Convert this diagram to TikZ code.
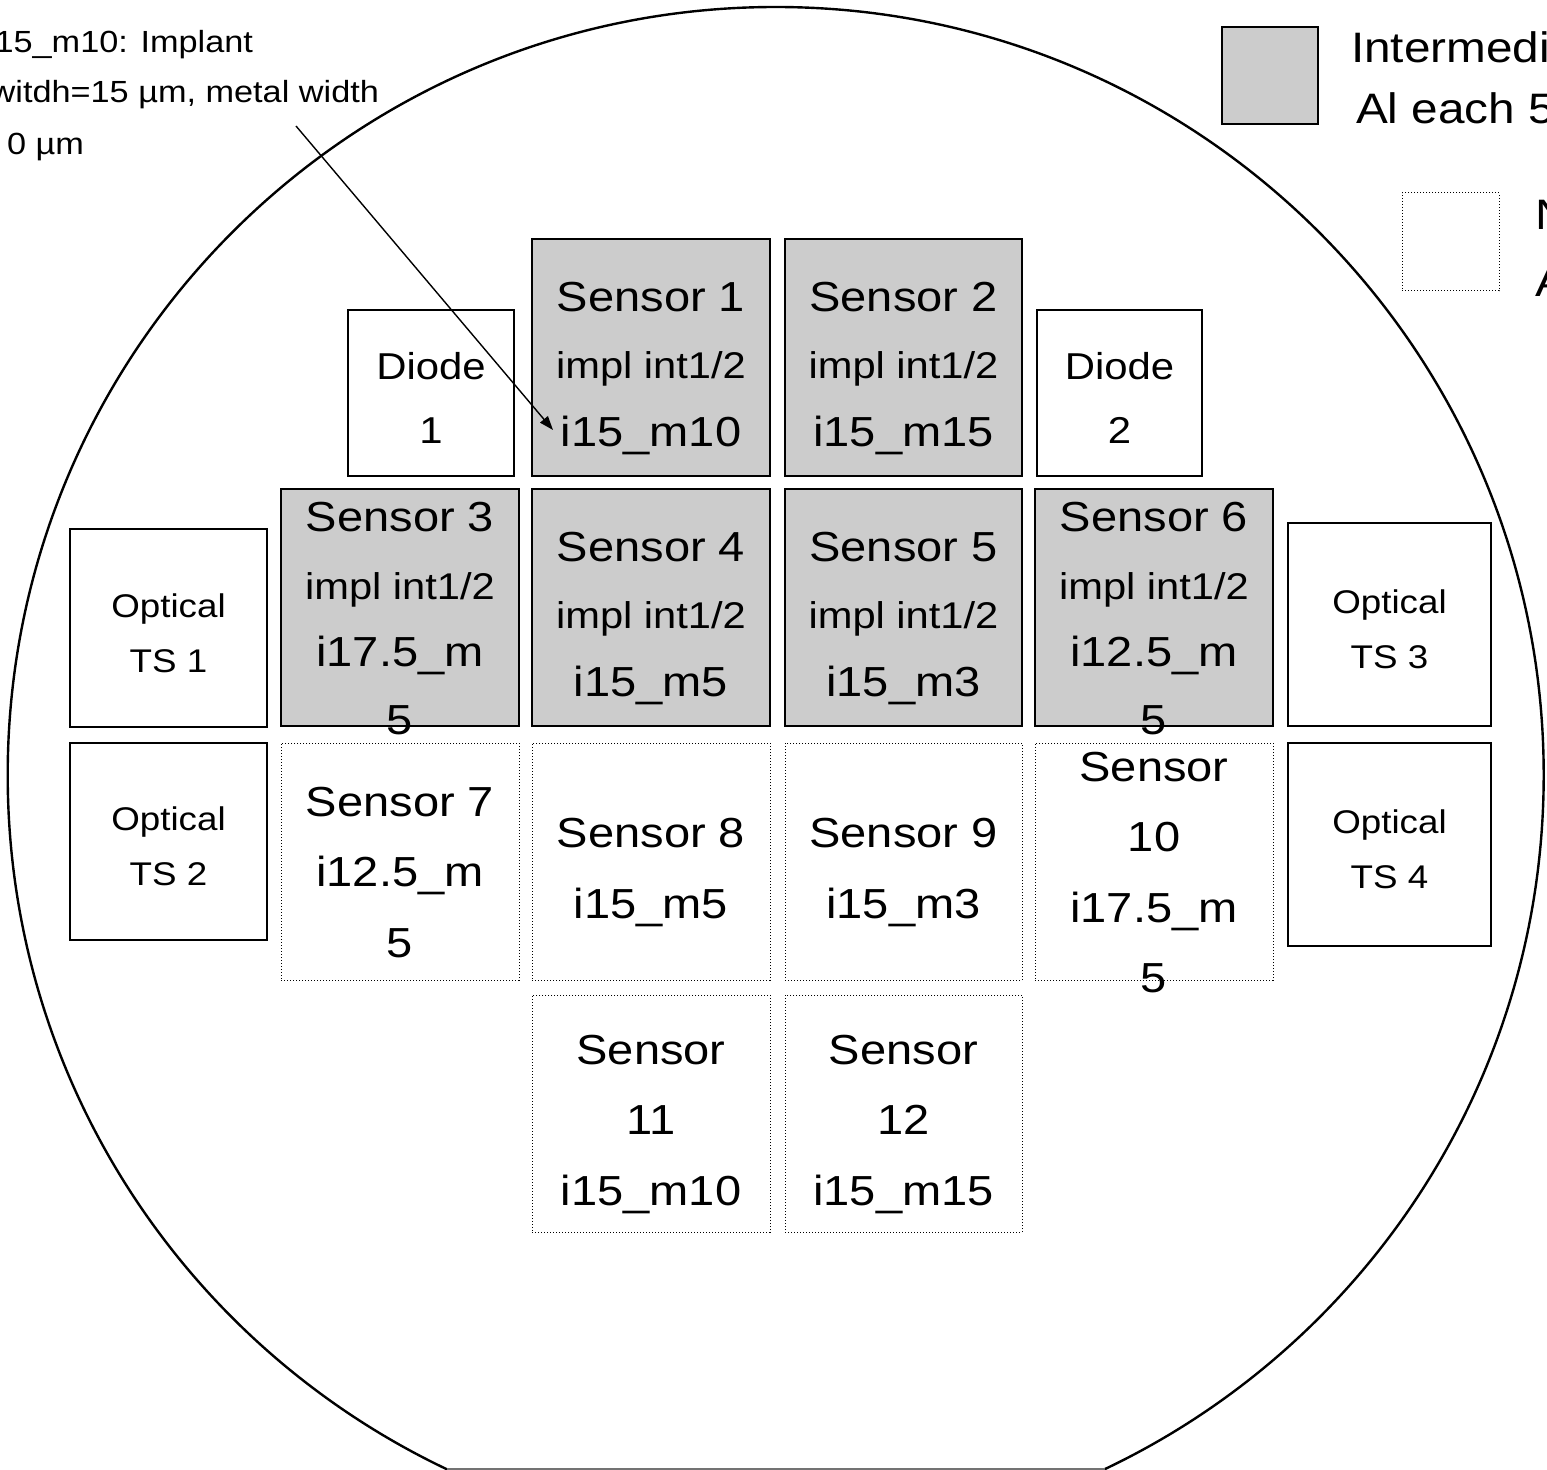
\documentclass[tikz,border=0pt]{standalone}
\usepackage{fontspec}
\setmainfont{Liberation Sans}[FakeStretch=1.12]
\usetikzlibrary{arrows.meta}
\definecolor{cellgray}{RGB}{204,204,204}
\newcommand\fsz[2]{\fontsize{#1}{#2}\selectfont}
\newcommand\wcell[8]{%
  \node[#6, minimum width={(#4-#2)*0.5pt}, minimum height={(#5-#3)*0.5pt}] (#1) at ({(#2+#4)/2},{(#3+#5)/2}) {};
  \node[#7] (#1t) at ([yshift=-2.5pt]#1.center) {#8};}
\tikzset{
  every node/.style={inner sep=0pt, outer sep=0pt},
  wafer/.style={draw, line width=1.2pt},
  flatline/.style={draw=black!55, line width=0.6pt},
  solidbox/.style={draw, line width=1pt, fill=white},
  graybox/.style={draw, line width=1pt, fill=cellgray},
  dotbox/.style={draw, line width=0.5pt, densely dotted},
  senstxt/.style={align=center, font=\fsz{21}{35.25}, yshift=-3pt},
  impltxt/.style={align=center, font=\fsz{21}{33.75}, yshift=-3pt},
  diodetxt/.style={align=center, font=\fsz{18.7}{32}},
  opttxt/.style={align=center, font=\fsz{16.4}{27.5}},
  notetxt/.style={font=\fsz{15.3}{25}},
  legtxt/.style={font=\fsz{21.3}{33.5}},
  pointer/.style={line width=0.7pt, -{Triangle[length=7pt,width=5pt]}},
}
\newcommand\implline{{\fsz{18.6}{33.75}impl int1/2}}
\begin{document}
\begin{tikzpicture}[x=0.5pt,y=-0.5pt]
\useasboundingbox (0,0) rectangle (1547,1470);
% wafer outline with flat
\begin{scope}
  \clip (-40,-40) rectangle (1600,1469);
  \draw[wafer] (775.7,775) circle[radius=384pt];
\end{scope}
\coordinate (flatL) at (446.8,1469);
\coordinate (flatR) at (1104.6,1469);
\draw[flatline] (flatL) -- (flatR);

% row 1
\wcell{d1}{348}{310}{514}{476}{solidbox}{diodetxt}{Diode\\1}
\wcell{s1}{532}{239}{770}{476}{graybox}{impltxt}{Sensor 1\\\implline\\i15\_m10}
\wcell{s2}{785}{239}{1022}{476}{graybox}{impltxt}{Sensor 2\\\implline\\i15\_m15}
\wcell{d2}{1037}{310}{1202}{476}{solidbox}{diodetxt}{Diode\\2}
% row 2
\wcell{o1}{70}{529}{267}{727}{solidbox}{opttxt}{Optical\\TS 1}
\wcell{s3}{281}{489}{519}{726}{graybox}{impltxt}{Sensor 3\\\implline\\i17.5\_m\\5}
\wcell{s4}{532}{489}{770}{726}{graybox}{impltxt}{Sensor 4\\\implline\\i15\_m5}
\wcell{s5}{785}{489}{1022}{726}{graybox}{impltxt}{Sensor 5\\\implline\\i15\_m3}
\wcell{s6}{1035}{489}{1273}{726}{graybox}{impltxt}{Sensor 6\\\implline\\i12.5\_m\\5}
\wcell{o3}{1288}{523}{1491}{726}{solidbox}{opttxt}{Optical\\TS 3}
% row 3
\wcell{o2}{70}{743}{267}{940}{solidbox}{opttxt}{Optical\\TS 2}
\wcell{s7}{281}{743}{519}{980}{dotbox}{senstxt}{Sensor 7\\i12.5\_m\\5}
\wcell{s8}{532}{743}{770}{980}{dotbox}{senstxt}{Sensor 8\\i15\_m5}
\wcell{s9}{785}{743}{1022}{980}{dotbox}{senstxt}{Sensor 9\\i15\_m3}
\wcell{s10}{1035}{743}{1273}{980}{dotbox}{senstxt}{Sensor\\10\\i17.5\_m\\5}
\wcell{o4}{1288}{743}{1491}{946}{solidbox}{opttxt}{Optical\\TS 4}
% row 4
\wcell{s11}{532}{995}{770}{1232}{dotbox}{senstxt}{Sensor\\11\\i15\_m10}
\wcell{s12}{785}{995}{1022}{1232}{dotbox}{senstxt}{Sensor\\12\\i15\_m15}

% annotation
\node[notetxt, anchor=base east] (note1) at (253,53) {15\_m10: Implant};
\node[notetxt, anchor=base east] (note2) at (379,103) {witdh=15 µm, metal width};
\node[notetxt, anchor=base west] (note3) at (7,155) {0 µm};
\coordinate (arrS) at (296,126);
\coordinate (arrE) at (553,430);
\draw[pointer] (arrS) -- (arrE);

% legend
\node[graybox, minimum width=48pt, minimum height=48.5pt] (leg1) at (1270,75.5) {};
\node[dotbox, minimum width=48.5pt, minimum height=49pt] (leg2) at (1450.5,242) {};
\node[legtxt, anchor=base west] (leg1a) at (1351,63) {Intermedi};
\node[legtxt, anchor=base west] (leg1b) at (1356,124) {Al each 5};
\node[legtxt, anchor=base west] (leg2a) at (1535,230) {N};
\node[legtxt, anchor=base west] (leg2b) at (1535,297) {A};
\end{tikzpicture}
\end{document}
